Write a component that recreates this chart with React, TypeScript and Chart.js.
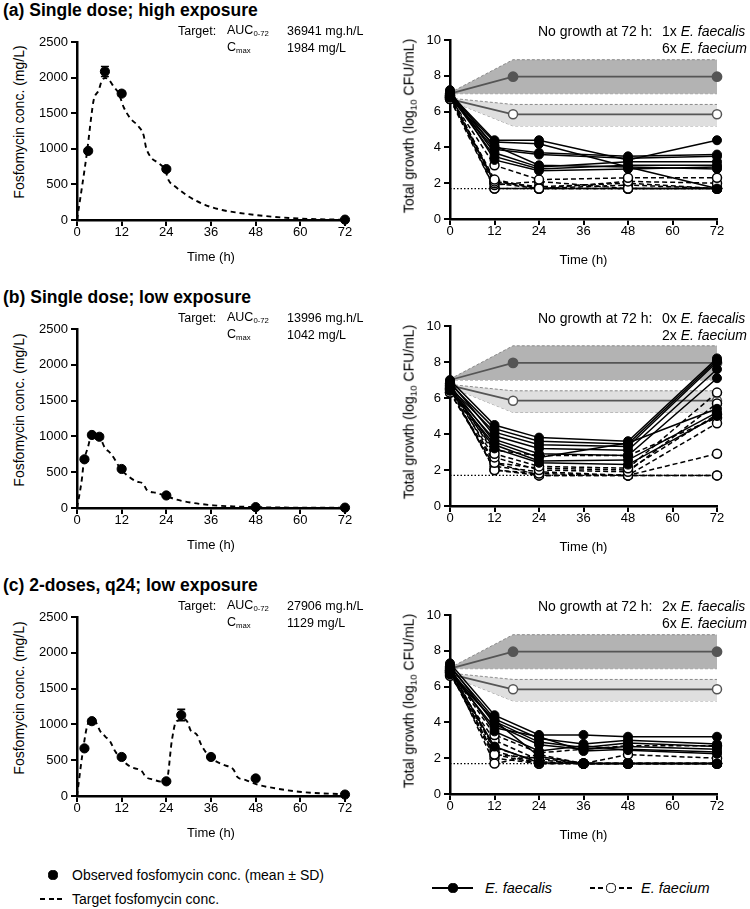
import React, { useEffect, useRef } from 'react';
import { Chart, registerables } from 'chart.js';
Chart.register(...registerables);

const FONT = "'Liberation Sans', Arial, Helvetica, sans-serif";

// ---------------- DATA ----------------
const X_TICKS = [0, 12, 24, 36, 48, 60, 72];
const PK_Y_TICKS = [0, 500, 1000, 1500, 2000, 2500];
const PD_Y_TICKS = [0, 2, 4, 6, 8, 10];

// (a) Single dose; high exposure - PK
const PK_A_OBS_T = [3, 7.5, 12, 24, 72];
const PK_A_OBS_C = [970, 2085, 1775, 715, 5];
const PK_A_OBS_SD = [30, 70, 30, 25, 0];
const PK_A_TGT_T = [0, 2.7, 4, 4.5, 5.8, 6.7, 7.6, 8.5, 9.9, 11.2, 12.5, 14.3, 16.6, 17.9, 18.5, 19.7, 22, 23.7, 24.6, 26.4, 30, 34.5, 39, 43.5, 48, 52.4, 57, 62, 67, 72];
const PK_A_TGT_C = [0, 960, 1520, 1690, 1820, 1960, 1995, 1975, 1870, 1780, 1590, 1430, 1310, 1190, 1030, 890, 795, 700, 560, 470, 330, 210, 140, 100, 70, 47, 28, 15, 8, 4];

// (b) Single dose; low exposure - PK
const PK_B_OBS_T = [2, 4, 6, 12, 24, 48, 72];
const PK_B_OBS_C = [680, 1020, 995, 545, 175, 12, 5];
const PK_B_OBS_SD = [25, 30, 30, 20, 15, 0, 0];
const PK_B_TGT_T = [0, 1.3, 1.8, 3.0, 3.7, 4.4, 6.2, 7.5, 8.9, 10.2, 11.5, 13.3, 16, 17.8, 18.7, 21.4, 24.1, 26.8, 31.3, 36.7, 42, 51, 60, 72];
const PK_B_TGT_C = [0, 400, 630, 860, 1000, 1038, 980, 840, 770, 675, 560, 465, 370, 340, 255, 210, 163, 116, 70, 37, 23, 9, 5, 3];

// (c) 2-doses, q24; low exposure - PK
const PK_C_OBS_T = [2, 4, 12, 24, 28, 36, 48, 72];
const PK_C_OBS_C = [665, 1045, 545, 205, 1130, 545, 245, 20];
const PK_C_OBS_SD = [20, 30, 25, 15, 80, 25, 20, 0];
const PK_C_TGT_T = [0, 1.8, 2.7, 3.6, 4.9, 6.3, 7.6, 8.9, 10.3, 12.1, 14.3, 17.5, 18.4, 20.2, 22.9, 24, 25.5, 26.4, 27.3, 28.2, 29.6, 30.5, 32.3, 33.2, 34.5, 36.7, 39.4, 42.1, 43, 45.2, 48.8, 53.3, 59.6, 65.9, 72];
const PK_C_TGT_C = [0, 710, 970, 1060, 1040, 900, 830, 760, 620, 505, 410, 340, 270, 233, 200, 200, 780, 1015, 1060, 1085, 1040, 920, 850, 735, 620, 505, 435, 365, 270, 225, 155, 107, 60, 37, 25];

// Growth controls (shared)
const CTRL_T = [0, 17, 72];
const CTRL_FAECALIS_MEAN = [7.0, 7.95, 7.95];
const CTRL_FAECALIS_UPPER = [7.05, 8.9, 8.9];
const CTRL_FAECALIS_LOWER = [7.0, 7.0, 7.0];
const CTRL_FAECIUM_MEAN = [6.7, 5.85, 5.85];
const CTRL_FAECIUM_UPPER = [6.75, 6.4, 6.4];
const CTRL_FAECIUM_LOWER = [6.6, 5.2, 5.2];
const LOD = 1.7;

// (a) PD
const PD_A_T = [0, 12, 24, 48, 72];
const PD_A_FAECALIS = [
  [7.0, 4.4, 4.4, 3.3, 4.4],
  [6.9, 4.3, 4.2, 2.9, 1.7],
  [7.1, 4.0, 3.7, 3.5, 3.6],
  [6.8, 3.9, 3.6, 3.4, 3.5],
  [7.0, 3.7, 2.9, 3.2, 3.2],
  [6.9, 3.5, 2.8, 3.0, 3.0],
  [7.2, 3.3, 2.7, 2.8, 2.9],
  [6.8, 4.1, 3.0, 2.9, 2.8],
];
const PD_A_FAECIUM = [
  [6.8, 3.0, 2.2, 2.3, 2.3],
  [6.9, 2.2, 1.7, 2.1, 2.0],
  [6.7, 2.1, 1.7, 1.7, 1.7],
  [7.0, 2.0, 1.7, 1.9, 1.7],
  [6.8, 1.9, 2.1, 1.7, 1.7],
  [6.9, 1.7, 1.7, 1.7, 1.7],
  [6.7, 1.7, 1.7, 1.7, 1.7],
  [6.8, 2.1, 1.8, 2.0, 1.7],
];

// (b) PD
const PD_B_T = [0, 12, 24, 48, 72];
const PD_B_FAECALIS = [
  [7.0, 4.5, 3.8, 3.6, 8.2],
  [6.8, 4.3, 3.6, 3.45, 8.1],
  [6.6, 4.1, 3.4, 3.3, 8.0],
  [6.9, 3.9, 3.2, 3.1, 7.6],
  [6.5, 3.7, 2.9, 2.8, 7.1],
  [6.7, 3.55, 2.7, 3.5, 5.4],
  [6.4, 3.4, 2.5, 2.55, 5.2],
  [6.6, 3.2, 2.4, 2.3, 5.0],
];
const PD_B_FAECIUM = [
  [6.7, 2.9, 2.2, 2.1, 6.3],
  [6.5, 2.7, 2.0, 1.9, 5.7],
  [6.3, 2.4, 2.1, 2.0, 5.1],
  [6.6, 2.0, 1.8, 1.7, 4.6],
  [6.4, 3.1, 2.8, 2.8, 4.9],
  [6.8, 2.4, 1.7, 1.7, 2.9],
  [6.5, 2.0, 1.7, 1.7, 1.7],
  [6.3, 2.2, 1.9, 1.7, 1.7],
];

// (c) PD
const PD_C_T = [0, 12, 24, 36, 48, 72];
const PD_C_FAECALIS = [
  [7.3, 4.4, 3.3, 3.3, 3.2, 3.2],
  [7.1, 4.2, 3.1, 2.8, 3.0, 2.8],
  [6.9, 4.05, 2.9, 2.6, 2.85, 2.65],
  [7.2, 3.9, 2.75, 2.5, 2.65, 2.5],
  [6.8, 3.7, 3.2, 2.4, 2.5, 2.35],
  [7.0, 3.5, 2.4, 2.7, 2.45, 2.25],
  [6.7, 4.1, 2.1, 1.7, 1.7, 1.7],
  [6.9, 2.65, 1.75, 1.7, 1.7, 1.7],
];
const PD_C_FAECIUM = [
  [6.9, 3.3, 2.3, 2.5, 2.7, 2.7],
  [6.8, 2.2, 2.0, 1.7, 2.2, 2.0],
  [7.0, 1.7, 2.2, 1.7, 1.7, 1.7],
  [6.7, 2.6, 1.8, 1.7, 1.7, 1.7],
  [6.9, 2.2, 1.7, 1.7, 1.7, 1.7],
  [6.8, 2.0, 1.7, 1.7, 1.7, 1.7],
  [6.6, 3.0, 1.9, 1.7, 1.7, 1.7],
  [7.1, 2.4, 1.7, 1.7, 1.7, 1.7],
];

const PANEL_TITLES = ['(a) Single dose; high exposure', '(b) Single dose; low exposure', '(c) 2-doses, q24; low exposure'];
const AUC_TEXT = ['36941 mg.h/L', '13996 mg.h/L', '27906 mg.h/L'];
const CMAX_TEXT = ['1984 mg/L', '1042 mg/L', '1129 mg/L'];
const NOGROWTH_FAECALIS = ['1x', '0x', '2x'];
const NOGROWTH_FAECIUM = ['6x', '2x', '6x'];

// ---------------- LAYOUT ----------------
const LEFT_BOX = [
  { top: 42, bottom: 220 },
  { top: 329, bottom: 508 },
  { top: 617, bottom: 796 },
];
const RIGHT_BOX = [
  { top: 40, bottom: 219 },
  { top: 326, bottom: 506 },
  { top: 615, bottom: 794 },
];
const L_LEFT = 77, L_RIGHT = 345, L_AXW = 50, L_XH = 45;
const R_LEFT = 450, R_RIGHT = 717, R_AXW = 40, R_XH = 49;
const PAD_T = 12, PAD_R = 12;
const TITLE_Y = [10.5, 298, 586];
const ANNOT_Y = [31, 318, 606];

// ---------------- HELPERS ----------------
const pts = (xs: number[], ys: number[]) => xs.map((x, i) => ({ x, y: ys[i] }));

const errorBarPlugin = {
  id: 'errorBars',
  beforeDatasetsDraw(chart: any) {
    const ctx = chart.ctx;
    const xs = chart.scales.x, ys = chart.scales.y;
    chart.data.datasets.forEach((ds: any) => {
      if (!ds.sd) return;
      ds.data.forEach((p: any, i: number) => {
        const sd = ds.sd[i];
        if (!sd) return;
        const px = xs.getPixelForValue(p.x);
        const top = ys.getPixelForValue(p.y + sd);
        const bot = ys.getPixelForValue(p.y - sd);
        ctx.save();
        ctx.strokeStyle = '#000';
        ctx.lineWidth = 1.6;
        ctx.beginPath();
        ctx.moveTo(px, top); ctx.lineTo(px, bot);
        ctx.moveTo(px - 4, top); ctx.lineTo(px + 4, top);
        ctx.moveTo(px - 4, bot); ctx.lineTo(px + 4, bot);
        ctx.stroke();
        ctx.restore();
      });
    });
  },
};

const plainLabel = (v: any) => String(v);

function xAxis(height: number) {
  return {
    type: 'linear', min: 0, max: 72,
    afterBuildTicks: (s: any) => { s.ticks = X_TICKS.map((v) => ({ value: v })); },
    ticks: { color: '#000', font: { family: FONT, size: 13 }, padding: -1, maxRotation: 0, autoSkip: false, callback: plainLabel },
    grid: { display: true, drawOnChartArea: false, drawTicks: true, tickLength: 6, tickWidth: 2, tickColor: '#000', color: '#000', lineWidth: 2 },
    border: { display: true, color: '#000', width: 2.5 },
    title: { display: true, text: 'Time (h)', color: '#000', font: { family: FONT, size: 13 }, padding: 0 },
    afterFit: (s: any) => { s.height = height; },
  };
}

function yAxis(max: number, ticks: number[], width: number) {
  return {
    type: 'linear', min: 0, max,
    afterBuildTicks: (s: any) => { s.ticks = ticks.map((v) => ({ value: v })); },
    ticks: { color: '#000', font: { family: FONT, size: 13 }, padding: 3, autoSkip: false, callback: plainLabel },
    grid: { display: true, drawOnChartArea: false, drawTicks: true, tickLength: 6, tickWidth: 2, tickColor: '#000', color: '#000', lineWidth: 2 },
    border: { display: true, color: '#000', width: 2.5 },
    afterFit: (s: any) => { s.width = width; },
  };
}

function baseOptions(x: any, y: any) {
  return {
    responsive: false,
    animation: false,
    events: [],
    layout: { padding: { top: PAD_T, right: PAD_R, left: 0, bottom: 0 } },
    plugins: { legend: { display: false }, tooltip: { enabled: false } },
    scales: { x, y },
  };
}

function pkConfig(obsT: number[], obsC: number[], obsSD: number[], tgtT: number[], tgtC: number[]) {
  return {
    type: 'line',
    data: {
      datasets: [
        { data: pts(obsT, obsC), sd: obsSD, showLine: false, pointRadius: 4.6, pointBackgroundColor: '#000', pointBorderColor: '#000', pointBorderWidth: 1, clip: false },
        { data: pts(tgtT, tgtC), borderColor: '#000', borderWidth: 1.9, borderDash: [5, 4], pointRadius: 0, cubicInterpolationMode: 'monotone', clip: false, fill: false },
      ],
    },
    options: baseOptions(xAxis(L_XH), yAxis(2500, PK_Y_TICKS, L_AXW)),
    plugins: [errorBarPlugin],
  };
}

function pdConfig(times: number[], faecalis: number[][], faecium: number[][]) {
  const iso = (rows: number[][], open: boolean) => rows.map((r) => ({
    data: pts(times, r),
    borderColor: '#000', borderWidth: 1.5, borderDash: open ? [5, 3] : [],
    pointRadius: 4.5,
    pointBackgroundColor: open ? '#fff' : '#000',
    pointBorderColor: '#000',
    pointBorderWidth: open ? 1.5 : 1,
    clip: false, fill: false, tension: 0,
  }));
  const ctrlRadius = CTRL_T.map((t) => (t === 0 ? 0 : 4.5));
  const edge = { borderColor: '#8a8a8a', borderWidth: 1, borderDash: [3, 2], pointRadius: 0, clip: false };
  return {
    type: 'line',
    data: {
      datasets: [
        ...iso(faecalis, false),
        ...iso(faecium, true),
        { data: [{ x: 0, y: LOD }, { x: 72, y: LOD }], borderColor: '#000', borderWidth: 1.3, borderDash: [1.5, 2], pointRadius: 0, fill: false },
        { data: pts(CTRL_T, CTRL_FAECALIS_MEAN), borderColor: '#555', borderWidth: 1.8, pointRadius: ctrlRadius, pointBackgroundColor: '#555', pointBorderColor: '#555', fill: false, clip: false },
        { data: pts(CTRL_T, CTRL_FAECIUM_MEAN), borderColor: '#555', borderWidth: 1.8, pointRadius: ctrlRadius, pointBackgroundColor: '#fff', pointBorderColor: '#555', pointBorderWidth: 1.5, fill: false, clip: false },
        { data: pts(CTRL_T, CTRL_FAECALIS_UPPER), ...edge, fill: '+1', backgroundColor: '#b3b3b3' },
        { data: pts(CTRL_T, CTRL_FAECALIS_LOWER), ...edge, fill: false },
        { data: pts(CTRL_T, CTRL_FAECIUM_UPPER), ...edge, fill: '+1', backgroundColor: '#dfdfdf' },
        { data: pts(CTRL_T, CTRL_FAECIUM_LOWER), ...edge, fill: false },
      ],
    },
    options: baseOptions(xAxis(R_XH), yAxis(10, PD_Y_TICKS, R_AXW)),
  };
}

function ChartBox({ x, y, w, h, make }: { x: number; y: number; w: number; h: number; make: () => any }) {
  const ref = useRef<HTMLCanvasElement>(null);
  useEffect(() => {
    const chart = new Chart(ref.current as HTMLCanvasElement, make());
    return () => chart.destroy();
  }, []);
  return <canvas ref={ref} width={w} height={h} style={{ position: 'absolute', left: x, top: y, width: w, height: h }} />;
}

function Txt({ x, y, size, bold, italic, children }: any) {
  return (
    <div style={{ position: 'absolute', left: x, top: y, transform: 'translateY(-50%)', fontFamily: FONT, fontSize: size, fontWeight: bold ? 700 : 400, fontStyle: italic ? 'italic' : 'normal', lineHeight: 1, whiteSpace: 'nowrap', color: '#000' }}>
      {children}
    </div>
  );
}

function VTxt({ cx, cy, size, children }: any) {
  return (
    <div style={{ position: 'absolute', left: cx, top: cy, transform: 'translate(-50%,-50%) rotate(-90deg)', fontFamily: FONT, fontSize: size, lineHeight: 1, whiteSpace: 'nowrap', color: '#000' }}>
      {children}
    </div>
  );
}

const sub = (t: string, size = '0.62em', va = '-0.35em') => <span style={{ fontSize: size, verticalAlign: va }}>{t}</span>;

function Dot({ cx, cy, r, fill, stroke }: any) {
  return <div style={{ position: 'absolute', left: cx - r, top: cy - r, width: 2 * r, height: 2 * r, boxSizing: 'border-box', borderRadius: '50%', background: fill, border: `1.5px solid ${stroke}` }} />;
}
function Seg({ x1, x2, y, t = 1.6 }: any) {
  return <div style={{ position: 'absolute', left: x1, top: y - t / 2, width: x2 - x1, height: t, background: '#000' }} />;
}

export default function App() {
  const pk = [
    () => pkConfig(PK_A_OBS_T, PK_A_OBS_C, PK_A_OBS_SD, PK_A_TGT_T, PK_A_TGT_C),
    () => pkConfig(PK_B_OBS_T, PK_B_OBS_C, PK_B_OBS_SD, PK_B_TGT_T, PK_B_TGT_C),
    () => pkConfig(PK_C_OBS_T, PK_C_OBS_C, PK_C_OBS_SD, PK_C_TGT_T, PK_C_TGT_C),
  ];
  const pd = [
    () => pdConfig(PD_A_T, PD_A_FAECALIS, PD_A_FAECIUM),
    () => pdConfig(PD_B_T, PD_B_FAECALIS, PD_B_FAECIUM),
    () => pdConfig(PD_C_T, PD_C_FAECALIS, PD_C_FAECIUM),
  ];
  return (
    <div style={{ position: 'absolute', left: 0, top: 0, width: 750, height: 909, background: '#fff', overflow: 'hidden' }}>
      {[0, 1, 2].map((i) => {
        const lb = LEFT_BOX[i], rb = RIGHT_BOX[i];
        const lx = L_LEFT - L_AXW, ly = lb.top - PAD_T;
        const rx = R_LEFT - R_AXW, ry = rb.top - PAD_T;
        return (
          <React.Fragment key={i}>
            <ChartBox x={lx} y={ly} w={L_RIGHT + PAD_R - lx} h={lb.bottom + L_XH - ly} make={pk[i]} />
            <ChartBox x={rx} y={ry} w={R_RIGHT + PAD_R - rx} h={rb.bottom + R_XH - ry} make={pd[i]} />
            <Txt x={3} y={TITLE_Y[i]} size={17.5} bold>{PANEL_TITLES[i]}</Txt>
            <Txt x={178} y={ANNOT_Y[i]} size={12.5}>Target:</Txt>
            <Txt x={227} y={ANNOT_Y[i]} size={12.5}>AUC{sub('0-72')}</Txt>
            <Txt x={287} y={ANNOT_Y[i]} size={12.5}>{AUC_TEXT[i]}</Txt>
            <Txt x={227} y={ANNOT_Y[i] + 17} size={12.5}>C{sub('max')}</Txt>
            <Txt x={287} y={ANNOT_Y[i] + 17} size={12.5}>{CMAX_TEXT[i]}</Txt>
            <Txt x={538} y={ANNOT_Y[i]} size={14}>No growth at 72 h:</Txt>
            <Txt x={662} y={ANNOT_Y[i]} size={14}>{NOGROWTH_FAECALIS[i]} <i>E. faecalis</i></Txt>
            <Txt x={662} y={ANNOT_Y[i] + 16.5} size={14}>{NOGROWTH_FAECIUM[i]} <i>E. faecium</i></Txt>
            <VTxt cx={18.5} cy={(lb.top + lb.bottom) / 2 - 9} size={14}>Fosfomycin conc. (mg/L)</VTxt>
            <VTxt cx={410} cy={(rb.top + rb.bottom) / 2 - 4} size={14}>Total growth (log{sub('10', '0.7em', '-0.3em')} CFU/mL)</VTxt>
          </React.Fragment>
        );
      })}
      {/* left legend */}
      <Dot cx={53} cy={875} r={4.6} fill="#000" stroke="#000" />
      <Txt x={72} y={875} size={14}>Observed fosfomycin conc. (mean ± SD)</Txt>
      <Seg x1={40} x2={45} y={899} />
      <Seg x1={48.5} x2={53.5} y={899} />
      <Seg x1={57} x2={62} y={899} />
      <Txt x={72} y={899} size={14}>Target fosfomycin conc.</Txt>
      {/* right legend */}
      <Seg x1={432} x2={473} y={888} />
      <Dot cx={453} cy={888} r={4.6} fill="#000" stroke="#000" />
      <Txt x={485} y={888} size={14.5} italic>E. faecalis</Txt>
      <Seg x1={590} x2={595} y={888} />
      <Seg x1={598} x2={603} y={888} />
      <Seg x1={619} x2={624} y={888} />
      <Seg x1={627} x2={632} y={888} />
      <Dot cx={611} cy={888} r={4.6} fill="#fff" stroke="#000" />
      <Txt x={641} y={888} size={14.5} italic>E. faecium</Txt>
    </div>
  );
}
